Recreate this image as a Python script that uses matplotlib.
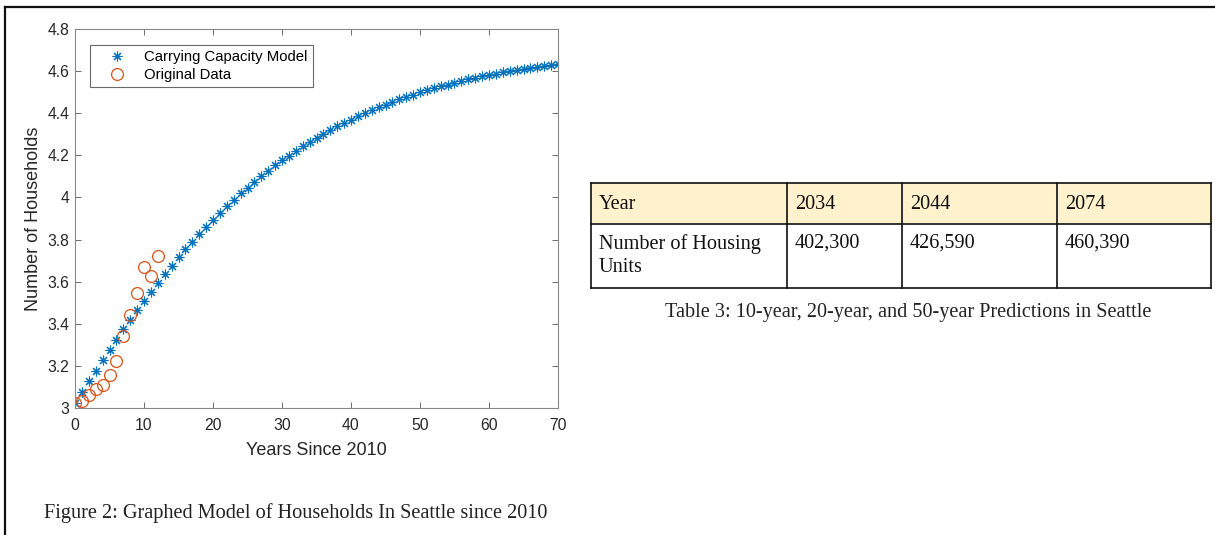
import matplotlib.pyplot as plt
from matplotlib.lines import Line2D
from matplotlib.patches import Rectangle
from matplotlib.ticker import FuncFormatter

# model values, years 0..70 since 2010 (millions of households)
model_years = list(range(0, 71))
model_values = [
    3.022, 3.075, 3.126, 3.177, 3.228, 3.277, 3.325, 3.373, 3.419, 3.464,
    3.509, 3.552, 3.594, 3.636, 3.676, 3.715, 3.753, 3.790, 3.826, 3.860,
    3.894, 3.927, 3.958, 3.989, 4.019, 4.047, 4.075, 4.102, 4.127, 4.152,
    4.176, 4.199, 4.221, 4.242, 4.263, 4.283, 4.302, 4.320, 4.337, 4.354,
    4.370, 4.386, 4.401, 4.415, 4.428, 4.441, 4.454, 4.466, 4.477, 4.488,
    4.499, 4.509, 4.518, 4.528, 4.536, 4.545, 4.553, 4.561, 4.568, 4.575,
    4.582, 4.588, 4.594, 4.600, 4.606, 4.611, 4.616, 4.621, 4.625, 4.630,
    4.634,
]

data_years = list(range(0, 13))
data_values = [3.022, 3.035, 3.063, 3.089, 3.108, 3.158, 3.225, 3.342,
               3.440, 3.545, 3.671, 3.627, 3.723]

x_ticks = [0, 10, 20, 30, 40, 50, 60, 70]
y_ticks = [3.0, 3.2, 3.4, 3.6, 3.8, 4.0, 4.2, 4.4, 4.6, 4.8]

table_header = ["Year", "2034", "2044", "2074"]
table_row = ["Number of Housing\nUnits", "402,300", "426,590", "460,390"]

W, H = 1215, 535
BLUE = "#0072BD"
ORANGE = "#D95319"
TXT = "#262626"
SANS = ["Liberation Sans", "DejaVu Sans"]
SERIF = ["Liberation Serif", "DejaVu Serif"]


def fx(px):
    return px / W


def fy(py):
    return 1 - py / H


def main():
    fig = plt.figure(figsize=(W / 100, H / 100), dpi=100)

    # page frame (top and left edges)
    fig.add_artist(Line2D([fx(5), 1], [fy(7), fy(7)], color="#111111", lw=1.6))
    fig.add_artist(Line2D([fx(5), fx(5)], [fy(7), 0], color="#111111", lw=1.6))

    ax = fig.add_axes([fx(75), fy(408), fx(558) - fx(75), fy(29) - fy(408)])
    ax.plot(model_years, model_values, linestyle="none", marker=(8, 2, 0),
            markersize=7, markeredgecolor=BLUE, markeredgewidth=0.8,
            color=BLUE, label="Carrying Capacity Model")
    ax.plot(data_years, data_values, linestyle="none", marker="o",
            markersize=8.5, markerfacecolor="none", markeredgecolor=ORANGE,
            markeredgewidth=0.9, label="Original Data")

    ax.set_xlim(0, 70)
    ax.set_ylim(3, 4.8)
    ax.set_xticks(x_ticks)
    ax.set_yticks(y_ticks)
    ax.yaxis.set_major_formatter(FuncFormatter(lambda v, p: f"{v:g}"))
    ax.tick_params(direction="in", top=True, right=True, length=4,
                   width=0.6, color="#555555", labelcolor=TXT, labelsize=11.3)
    ax.tick_params(axis="x", pad=7)
    ax.tick_params(axis="y", pad=4)
    for lab in ax.get_xticklabels() + ax.get_yticklabels():
        lab.set_family(SANS)
    for s in ax.spines.values():
        s.set_color("#888888")
        s.set_linewidth(0.8)
    ax.set_xlabel("Years Since 2010", fontsize=13, color=TXT, family=SANS,
                  labelpad=7)
    ax.set_ylabel("Number of Households", fontsize=13, color=TXT,
                  family=SANS, labelpad=4)

    leg = ax.legend(loc="upper left", bbox_to_anchor=((90 - 75) / 483, (408 - 45) / 379),
                    borderaxespad=0, prop={"family": SANS, "size": 10.7},
                    frameon=True, fancybox=False, edgecolor="#444444",
                    handlelength=3.0, handletextpad=0.3, borderpad=0.35,
                    labelspacing=0.25)
    leg.get_frame().set_linewidth(0.8)

    fig.text(fx(44), fy(513), "Figure 2: Graphed Model of Households In Seattle since 2010",
             family=SERIF, fontsize=14.6, color="#222222", va="center", ha="left")

    # table
    cols = [591, 787, 902, 1057, 1211]
    rows = [183, 224, 288]
    fig.add_artist(Rectangle((fx(cols[0]), fy(rows[1])), fx(cols[-1]) - fx(cols[0]),
                             fy(rows[0]) - fy(rows[1]), transform=fig.transFigure,
                             facecolor="#FFF2CC", edgecolor="none"))
    for r in rows:
        fig.add_artist(Line2D([fx(cols[0]), fx(cols[-1])], [fy(r), fy(r)],
                              color="#111111", lw=1.2))
    for c in cols:
        fig.add_artist(Line2D([fx(c), fx(c)], [fy(rows[0]), fy(rows[-1])],
                              color="#111111", lw=1.2))
    for i, txt in enumerate(table_header):
        fig.text(fx(cols[i] + 8), fy((rows[0] + rows[1]) / 2 + 1), txt, family=SERIF,
                 fontsize=14.6, color="#111111", va="center", ha="left")
    for i, txt in enumerate(table_row):
        fig.text(fx(cols[i] + 8), fy(rows[1] + 10), txt, family=SERIF,
                 fontsize=14.6, color="#111111", va="top", ha="left",
                 linespacing=1.3)

    fig.text(fx(908), fy(313), "Table 3: 10-year, 20-year, and 50-year Predictions in Seattle",
             family=SERIF, fontsize=14.6, color="#222222", va="center", ha="center")

    fig.savefig("out.png", dpi=100)


if __name__ == "__main__":
    main()
